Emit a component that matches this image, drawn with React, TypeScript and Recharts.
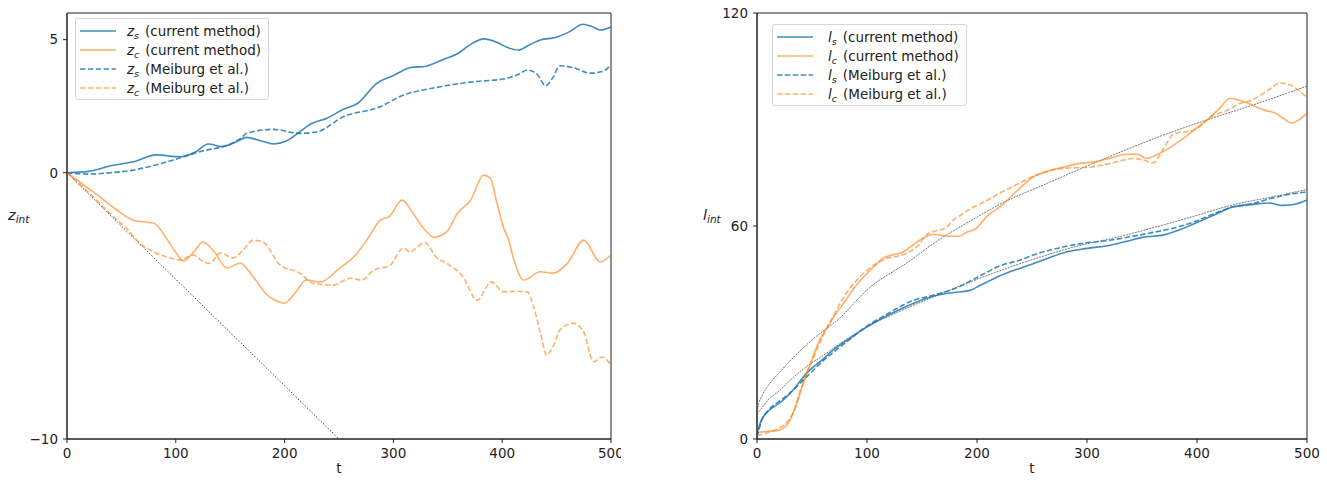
import React from "react";
import { LineChart, Line, XAxis, YAxis, ReferenceArea, Legend } from "recharts";

const FONT = "'DejaVu Sans', sans-serif";
const BLUE = "#1f77b4";
const ORANGE = "#ff7f0e";

const T_TICKS = [0, 100, 200, 300, 400, 500];

// ---- interface height z_int ----
const zsCurT = [0, 20, 40, 61, 82, 104, 118, 130, 142, 155, 165, 178, 190, 202, 214, 224, 239, 255, 267, 285, 300, 316, 330, 345, 360, 372, 383, 395, 405, 415, 425, 435, 449, 462, 474, 482, 490, 500];
const zsCur = [0, 0.05, 0.26, 0.41, 0.67, 0.6, 0.78, 1.08, 0.98, 1.15, 1.33, 1.2, 1.08, 1.2, 1.54, 1.83, 2.05, 2.4, 2.6, 3.37, 3.65, 3.95, 4.0, 4.24, 4.5, 4.85, 5.03, 4.9, 4.7, 4.61, 4.8, 4.99, 5.08, 5.3, 5.58, 5.5, 5.36, 5.47];

const zcCurT = [0, 15, 30, 46, 61, 80, 92, 100, 107, 116, 125, 135, 147, 159, 172, 184, 192, 200, 210, 220, 233, 250, 265, 276, 288, 296, 308, 318, 328, 337, 349, 359, 371, 383, 389, 395, 401, 406, 410, 420, 435, 447, 460, 475, 490, 500];
const zcCur = [0, -0.45, -0.9, -1.4, -1.78, -1.9, -2.5, -3.0, -3.31, -3.0, -2.6, -2.95, -3.58, -3.4, -3.95, -4.6, -4.8, -4.9, -4.5, -4.03, -4.1, -3.6, -3.1, -2.5, -1.78, -1.65, -1.03, -1.52, -2.1, -2.42, -2.22, -1.52, -1.03, -0.09, -0.2, -1.1, -2.03, -2.53, -3.16, -4.03, -3.72, -3.77, -3.4, -2.53, -3.35, -3.09];

const zsMeiT = [0, 20, 40, 61, 92, 122, 153, 160, 165, 190, 214, 230, 254, 288, 306, 343, 374, 401, 415, 423, 432, 440, 447, 453, 465, 481, 492, 500];
const zsMei = [0, -0.05, 0, 0.1, 0.41, 0.79, 1.13, 1.3, 1.48, 1.63, 1.48, 1.54, 2.1, 2.48, 2.86, 3.23, 3.42, 3.52, 3.7, 3.86, 3.7, 3.27, 3.6, 4.02, 3.95, 3.74, 3.8, 4.05];

const zcMeiT = [0, 20, 40, 55, 67, 82, 95, 104, 116, 124, 131, 141, 153, 162, 171, 180, 196, 214, 226, 245, 260, 271, 282, 297, 309, 315, 329, 340, 349, 364, 377, 390, 401, 412, 423, 429, 435, 441, 447, 453, 465, 475, 484, 492, 500];
const zcMei = [0, -0.75, -1.55, -2.1, -2.65, -3.02, -3.2, -3.28, -3.09, -3.3, -3.4, -3.02, -3.2, -2.9, -2.53, -2.6, -3.47, -3.77, -4.15, -4.22, -3.96, -4.03, -3.66, -3.47, -2.83, -2.97, -2.63, -3.2, -3.4, -3.91, -4.79, -4.1, -4.47, -4.45, -4.47, -5.04, -6.0, -6.85, -6.5, -5.91, -5.65, -5.98, -7.1, -6.92, -7.23];

// free-fall reference z = -t/25
const zRefT = [0, 250];
const zRef = [0, -10];

// ---- interface length l_int ----
const lsCurT = [0, 4, 10, 20, 30, 45, 60, 69, 85, 100, 120, 142, 160, 172, 186, 194, 203, 221, 240, 251, 265, 281, 300, 321, 340, 350, 370, 385, 400, 415, 433, 451, 465, 478, 490, 500];
const lsCur = [1.6, 5.3, 7.8, 10, 12.8, 18.5, 22.5, 25, 28.5, 31.6, 35, 38.2, 40.2, 41, 41.5, 41.9, 43.3, 46, 48.2, 49.4, 51, 52.7, 53.7, 54.6, 56, 56.8, 57.5, 59, 61, 63, 65.4, 66.1, 66.5, 65.8, 66.2, 67.3];

const lcCurT = [0, 10, 20, 26, 30, 35, 42, 50, 57, 65, 72, 80, 87, 95, 100, 107, 114, 122, 130, 139, 148, 160, 172, 184, 191, 198, 210, 221, 235, 251, 265, 281, 295, 305, 320, 336, 346, 354, 363, 375, 385, 397, 409, 420, 430, 439, 447, 454, 463, 472, 480, 486, 493, 500];
const lcCur = [1.8, 2.2, 2.5, 3.5, 5.3, 9, 15.7, 22.5, 27.9, 32, 35.4, 38.8, 42, 45, 46.6, 48.8, 50.8, 51.8, 52.3, 54, 56, 57.6, 57.2, 57.1, 58.3, 59, 63, 65.4, 69.5, 73.8, 75.5, 76.8, 77.7, 78, 79, 80.2, 80.2, 79, 80, 82, 84.1, 87, 89.8, 93, 95.9, 95.4, 94.5, 93.5, 92.5, 91.7, 90, 89, 90, 91.8];

const lsMeiT = [0, 4, 10, 20, 30, 45, 60, 80, 100, 120, 140, 160, 181, 200, 221, 240, 251, 270, 296, 321, 340, 360, 380, 400, 420, 433, 450, 470, 485, 500];
const lsMei = [0.5, 5, 8, 10.5, 13, 17.5, 22, 27, 31.8, 35.5, 38.8, 40.5, 42.5, 45.5, 48.8, 50.5, 51.8, 53.5, 55.1, 56, 57, 58.2, 59.5, 61.5, 64, 65.4, 66.3, 68, 69, 69.6];

const lcMeiT = [0, 10, 20, 28, 33, 40, 50, 60, 70, 81, 90, 100, 109, 118, 128, 136, 148, 154, 165, 172, 178, 185, 195, 208, 221, 235, 251, 265, 281, 302, 321, 342, 352, 360, 370, 379, 397, 415, 427, 439, 450, 460, 468, 475, 487, 495, 500];
const lcMei = [1, 1.8, 3, 5, 7.5, 14, 22, 29, 35, 41, 44.5, 47.5, 49.5, 50.9, 51.5, 52.3, 55, 57.5, 58.8, 59.5, 61.6, 63, 65, 67, 69.3, 71.5, 74, 75.5, 76.3, 76.6, 77.6, 79, 78.5, 77.8, 82, 86, 87, 91.2, 92.5, 94.5, 95.5, 97.3, 99, 100.3, 99.4, 97.5, 96.3];

// fitted growth curves
const lcFitT = [0, 2, 5, 10, 20, 30, 50, 75, 100, 140, 160, 200, 220, 260, 320, 360, 410, 450, 500];
const lcFit = [8, 10.5, 12.5, 15, 18.6, 22, 27.9, 34, 42, 50.4, 55, 62.5, 66, 71.5, 79.5, 84.5, 90, 94, 99.4];

const lsFitT = [0, 5, 10, 20, 30, 45, 60, 80, 100, 130, 160, 200, 250, 300, 320, 360, 400, 433, 470, 500];
const lsFit = [7, 9, 11, 13.5, 16.5, 20.4, 23.5, 27.8, 31.6, 36, 40, 45, 50.5, 55, 56.3, 59.5, 63, 66, 68.3, 70.3];

const pts = (ts: number[], vs: number[]) => ts.map((t, i) => ({ t, v: vs[i] }));

type Series = { data: { t: number; v: number }[]; color: string; dashed: boolean };
type Guide = { data: { t: number; v: number }[]; dash: string; color: string; width: number };
type Row = { sym: string; sub: string; color: string; dashed: boolean; text: string };

const seriesOpacity = (c: string) => (c === ORANGE ? 0.62 : 0.85);

function LegendBox({ rows, gap }: { rows: Row[]; gap: number }) {
  return (
    <div
      style={{
        background: "rgba(255,255,255,0.85)",
        border: "1px solid #d6d6d6",
        borderRadius: 3,
        padding: "2px 7px 2px 4px",
        fontFamily: FONT,
        fontSize: 13.5,
        color: "#222",
        whiteSpace: "nowrap",
      }}
    >
      {rows.map((r, i) => (
        <div key={i} style={{ display: "flex", alignItems: "center", height: 19 }}>
          <svg width={36} height={10} style={{ flex: "none" }}>
            <line
              x1={0}
              x2={36}
              y1={5}
              y2={5}
              stroke={r.color}
              strokeOpacity={seriesOpacity(r.color)}
              strokeWidth={1.6}
              strokeDasharray={r.dashed ? "5.5 2.4" : undefined}
            />
          </svg>
          <span style={{ marginLeft: gap }}>
            <span style={{ fontStyle: "italic" }}>{r.sym}</span>
            <span style={{ fontStyle: "italic", fontSize: 9.5, position: "relative", top: 3 }}>{r.sub}</span>
            <span style={{ marginLeft: 6 }}>{r.text}</span>
          </span>
        </div>
      ))}
    </div>
  );
}

const minus = (v: number) => String(v).replace("-", "\u2212");

function Panel(props: {
  left: number;
  width: number;
  axisWidth: number;
  marginRight: number;
  yDomain: [number, number];
  yTicks: number[];
  series: Series[];
  guides: Guide[];
  rows: Row[];
  legendLeft: number;
  legendTop: number;
  legendGap: number;
  sym: string;
  symX: number;
}) {
  const tickStyle = { fill: "#222", fontSize: 13.5, fontFamily: FONT };
  return (
    <div style={{ position: "absolute", left: props.left, top: 0 }}>
      <LineChart
        width={props.width}
        height={482}
        margin={{ top: 13, right: props.marginRight, bottom: 9, left: 0 }}
      >
        <XAxis
          type="number"
          dataKey="t"
          domain={[0, 500]}
          ticks={T_TICKS}
          allowDataOverflow
          height={34}
          stroke="#222"
          tickSize={4}
          tickMargin={5}
          tick={tickStyle}
          label={{ value: "t", position: "insideBottom", offset: 0, fill: "#222", fontSize: 13.5, fontFamily: FONT }}
        />
        <YAxis
          type="number"
          dataKey="v"
          domain={props.yDomain}
          ticks={props.yTicks}
          allowDataOverflow
          width={props.axisWidth}
          stroke="#222"
          tickSize={4}
          tickMargin={5}
          tick={tickStyle}
          tickFormatter={minus}
          label={(p: any) => (
            <text
              x={p.viewBox.x + props.symX}
              y={p.viewBox.y + p.viewBox.height / 2 - 6}
              fill="#222"
              fontFamily={FONT}
              fontSize={14.5}
              fontStyle="italic"
            >
              {props.sym}
              <tspan fontSize={10.5} dy={3}>
                int
              </tspan>
            </text>
          )}
        />
        <ReferenceArea
          x1={0}
          x2={500}
          y1={props.yDomain[0]}
          y2={props.yDomain[1]}
          fill="none"
          stroke="#222"
          strokeWidth={1}
          ifOverflow="visible"
        />
        {props.guides.map((g, i) => (
          <Line
            key={"g" + i}
            data={g.data}
            dataKey="v"
            type="monotone"
            stroke={g.color}
            strokeWidth={g.width}
            strokeDasharray={g.dash}
            dot={false}
            activeDot={false}
            legendType="none"
            isAnimationActive={false}
          />
        ))}
        {props.series.map((s, i) => (
          <Line
            key={"s" + i}
            data={s.data}
            dataKey="v"
            type="monotone"
            stroke={s.color}
            strokeOpacity={seriesOpacity(s.color)}
            strokeWidth={1.6}
            strokeDasharray={s.dashed ? "5.5 2.4" : undefined}
            dot={false}
            activeDot={false}
            isAnimationActive={false}
          />
        ))}
        <Legend
          layout="vertical"
          align="center"
          verticalAlign="middle"
          wrapperStyle={{ left: props.legendLeft, top: props.legendTop, width: "auto" }}
          content={() => <LegendBox rows={props.rows} gap={props.legendGap} />}
        />
      </LineChart>
    </div>
  );
}

const zRows: Row[] = [
  { sym: "z", sub: "s", color: BLUE, dashed: false, text: "(current method)" },
  { sym: "z", sub: "c", color: ORANGE, dashed: false, text: "(current method)" },
  { sym: "z", sub: "s", color: BLUE, dashed: true, text: "(Meiburg et al.)" },
  { sym: "z", sub: "c", color: ORANGE, dashed: true, text: "(Meiburg et al.)" },
];

const lRows: Row[] = [
  { sym: "l", sub: "s", color: BLUE, dashed: false, text: "(current method)" },
  { sym: "l", sub: "c", color: ORANGE, dashed: false, text: "(current method)" },
  { sym: "l", sub: "s", color: BLUE, dashed: true, text: "(Meiburg et al.)" },
  { sym: "l", sub: "c", color: ORANGE, dashed: true, text: "(Meiburg et al.)" },
];

export default function App() {
  return (
    <div style={{ position: "absolute", left: 0, top: 0, width: 1327, height: 482, background: "#fff", overflow: "hidden" }}>
      <Panel
        left={0}
        width={621}
        axisWidth={67}
        marginRight={10}
        yDomain={[-10, 6]}
        yTicks={[-10, 0, 5]}
        guides={[{ data: pts(zRefT, zRef), dash: "1.2 2", color: "#222", width: 1 }]}
        series={[
          { data: pts(zsCurT, zsCur), color: BLUE, dashed: false },
          { data: pts(zcCurT, zcCur), color: ORANGE, dashed: false },
          { data: pts(zsMeiT, zsMei), color: BLUE, dashed: true },
          { data: pts(zcMeiT, zcMei), color: ORANGE, dashed: true },
        ]}
        rows={zRows}
        legendLeft={75}
        legendTop={18}
        legendGap={11}
        sym="z"
        symX={8}
      />
      <Panel
        left={660}
        width={667}
        axisWidth={97}
        marginRight={20}
        yDomain={[0, 120]}
        yTicks={[0, 60, 120]}
        guides={[
          { data: pts(lcFitT, lcFit), dash: "2 1", color: "#666", width: 0.9 },
          { data: pts(lsFitT, lsFit), dash: "2 1", color: "#666", width: 0.9 },
        ]}
        series={[
          { data: pts(lsCurT, lsCur), color: BLUE, dashed: false },
          { data: pts(lcCurT, lcCur), color: ORANGE, dashed: false },
          { data: pts(lsMeiT, lsMei), color: BLUE, dashed: true },
          { data: pts(lcMeiT, lcMei), color: ORANGE, dashed: true },
        ]}
        rows={lRows}
        legendLeft={112}
        legendTop={24}
        legendGap={15}
        sym="l"
        symX={43}
      />
    </div>
  );
}
